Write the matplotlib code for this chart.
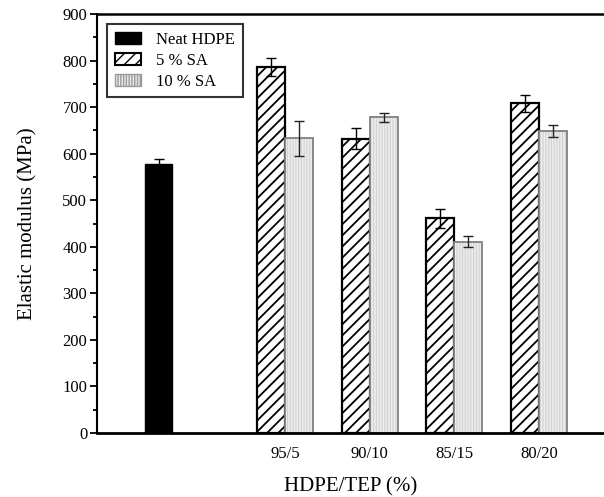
import numpy as np
import matplotlib
matplotlib.use("Agg")
import matplotlib.pyplot as plt
from matplotlib.ticker import MultipleLocator
from matplotlib.patches import Patch

plt.rcParams["font.family"] = ["Liberation Serif", "DejaVu Serif"]

groups = ["95/5", "90/10", "85/15", "80/20"]
neat_val = 578
neat_err = 10
sa5_vals = [786, 632, 461, 708]
sa5_errs = [20, 23, 21, 19]
sa10_vals = [633, 678, 411, 649]
sa10_errs = [38, 9, 12, 13]

fig = plt.figure(figsize=(6.04, 4.97), dpi=100)
ax = fig.add_axes([97/604, 64/497, 507/604, 419/497])

w = 0.33
xg = np.arange(len(groups)) + 1.5

ax.bar(0, neat_val, w, color="black", edgecolor="black", zorder=2)
ax.errorbar(0, neat_val, yerr=neat_err, fmt="none", ecolor="black", elinewidth=1, capsize=3.5, zorder=3)

with plt.rc_context({"hatch.linewidth": 1.3}):
    ax.bar(xg - w/2, sa5_vals, w, facecolor="white", edgecolor="black", hatch="///",
           linewidth=1.6, zorder=2)
ax.errorbar(xg - w/2, sa5_vals, yerr=sa5_errs, fmt="none", ecolor="black", elinewidth=1, capsize=3.5, zorder=3)

with plt.rc_context({"hatch.linewidth": 0.8}):
    ax.bar(xg + w/2, sa10_vals, w, facecolor="#ececec", edgecolor="#d2d2d2", hatch="||||||",
           linewidth=0, zorder=2)
ax.bar(xg + w/2, sa10_vals, w, fill=False, edgecolor="#808080", linewidth=1.3, zorder=2)
ax.errorbar(xg + w/2, sa10_vals, yerr=sa10_errs, fmt="none", ecolor="#222222", elinewidth=1, capsize=3.5, zorder=3)

with plt.rc_context({"hatch.linewidth": 1.3}):
    h5 = Patch(facecolor="white", edgecolor="black", hatch="///", linewidth=1.5)
with plt.rc_context({"hatch.linewidth": 0.8}):
    h10 = Patch(facecolor="#ececec", edgecolor="#999999", hatch="||||||", linewidth=1)
handles = [Patch(facecolor="black", edgecolor="black"), h5, h10]
leg = ax.legend(handles, ["Neat HDPE", "5 % SA", "10 % SA"], loc="upper left",
                bbox_to_anchor=(0.02, 0.975), fontsize=12, frameon=True, fancybox=False,
                edgecolor="black", handlelength=1.6, handleheight=0.75, borderpad=0.45,
                labelspacing=0.3, handletextpad=0.9, borderaxespad=0)
leg.get_frame().set_linewidth(1.5)

ax.set_xlim(-0.728, 5.272)
ax.set_ylim(0, 900)
ax.set_xticks(xg)
ax.set_xticklabels(groups, fontsize=12)
ax.tick_params(axis="x", length=0, pad=9)
ax.yaxis.set_major_locator(MultipleLocator(100))
ax.yaxis.set_minor_locator(MultipleLocator(50))
ax.tick_params(axis="y", which="major", length=5, width=1.3, labelsize=12, direction="out", pad=2)
ax.tick_params(axis="y", which="minor", length=3, width=1.3, direction="out")

ax.spines["right"].set_visible(False)
ax.spines["left"].set_linewidth(1.5)
ax.spines["top"].set_linewidth(1.8)
ax.spines["bottom"].set_linewidth(2)

ax.set_xlabel("HDPE/TEP (%)", fontsize=15, labelpad=11)
ax.set_ylabel("Elastic modulus (MPa)", fontsize=15, labelpad=18)

fig.savefig("out.png", dpi=100)
